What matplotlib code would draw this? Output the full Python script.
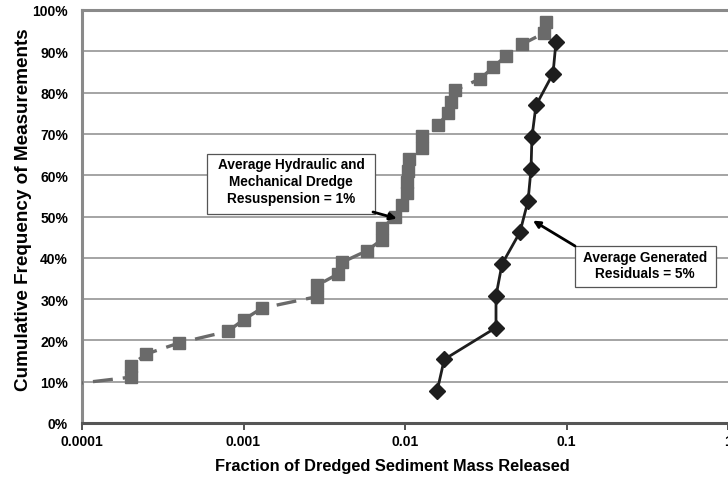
import numpy as np
import matplotlib
matplotlib.use('Agg')
import matplotlib.pyplot as plt
from matplotlib.patches import Rectangle
from matplotlib.ticker import FixedLocator, NullLocator

plt.rcParams['font.family'] = ['Liberation Sans', 'DejaVu Sans']
plt.rcParams['font.weight'] = 'bold'

# Resuspension (hydraulic + mechanical dredges), gray squares
resusp_x = [0.00005, 0.0002, 0.0002, 0.00025, 0.0004, 0.0008, 0.001, 0.0013,
            0.00285, 0.00285, 0.00385, 0.00407, 0.0058, 0.0072, 0.0072,
            0.0087, 0.0096, 0.0103, 0.0103, 0.0105, 0.0106, 0.0127, 0.0127,
            0.016, 0.0185, 0.0193, 0.0204, 0.0291, 0.0351, 0.0422, 0.053,
            0.0726, 0.0746]
resusp_y = [8.3, 11.1, 13.9, 16.7, 19.4, 22.2, 25.0, 27.8, 30.6, 33.3, 36.1,
            38.9, 41.7, 44.4, 47.2, 50.0, 52.8, 55.6, 58.3, 61.1, 63.9, 66.7,
            69.4, 72.2, 75.0, 77.8, 80.6, 83.3, 86.1, 88.9, 91.7, 94.4, 97.2]

# Generated residuals, black diamonds
resid_x = [0.0158, 0.0175, 0.0366, 0.0366, 0.0399, 0.0515, 0.0578, 0.0603,
           0.0611, 0.0647, 0.0825, 0.0861]
resid_y = [7.7, 15.4, 23.1, 30.8, 38.5, 46.2, 53.8, 61.5, 69.2, 76.9, 84.6, 92.3]

x_ticks = [0.0001, 0.001, 0.01, 0.1, 1]
x_ticklabels = ['0.0001', '0.001', '0.01', '0.1', '1']
y_ticks = list(range(0, 101, 10))
y_ticklabels = [f'{v}%' for v in y_ticks]

fig = plt.figure(figsize=(7.28, 4.81), dpi=100)
ax = fig.add_axes([82 / 728, 57 / 481, 646 / 728, 413 / 481])


def px(x, y):
    # pixel position in the picture -> axes fraction
    return (x - 82) / 646, (424 - y) / 413


# lines
ax.plot(resusp_x, resusp_y, color='#6a6a6a', lw=2.4, ls=(0, (6, 3)),
        marker='s', ms=8, mfc='#6a6a6a', mec='#6a6a6a', zorder=3)
ax.plot(resid_x, resid_y, color='#1e1e1e', lw=2.0, marker='D', ms=8.5,
        mfc='#1e1e1e', mec='#1e1e1e', zorder=4)

ax.set_xscale('log')
ax.set_xlim(0.0001, 1)
ax.set_ylim(0, 100)
ax.xaxis.set_major_locator(FixedLocator(x_ticks))
ax.xaxis.set_minor_locator(NullLocator())
ax.set_xticklabels(x_ticklabels)
ax.set_yticks(y_ticks)
ax.set_yticklabels(y_ticklabels)
ax.tick_params(axis='x', length=5, width=1.2, color='#333333', labelsize=10, pad=3)
ax.tick_params(axis='y', length=0, labelsize=10, pad=10)

ax.yaxis.grid(True, color='#8c8c8c', lw=1.1)
ax.set_axisbelow(True)

for s in ['left', 'top']:
    ax.spines[s].set_color('#8a8a8a')
    ax.spines[s].set_linewidth(2.2)
ax.spines['bottom'].set_color('#555555')
ax.spines['bottom'].set_linewidth(2.2)
ax.spines['right'].set_visible(False)

ax.set_xlabel('Fraction of Dredged Sediment Mass Released', fontsize=11.8,
              fontweight='bold')
ax.xaxis.set_label_coords(*px(392, 459))
ax.set_ylabel('Cumulative Frequency of Measurements', fontsize=13.6,
              fontweight='bold')
ax.yaxis.set_label_coords(*px(32, 210))

# annotation boxes
x0, y0 = px(207, 215)
x1, y1 = px(375, 155)
ax.add_patch(Rectangle((x0, y0), x1 - x0, y1 - y0, transform=ax.transAxes,
                       fc='white', ec='#555555', lw=0.9, zorder=5))
ax.text(*px(291, 182), 'Average Hydraulic and\nMechanical Dredge\nResuspension = 1%',
        transform=ax.transAxes, ha='center', va='center', fontsize=9.8,
        fontweight='bold', linespacing=1.25, zorder=6)
ax.annotate('', xy=(0.0089, 49.5), xycoords='data',
            xytext=px(373, 213), textcoords='axes fraction',
            arrowprops=dict(arrowstyle='-|>', color='black', lw=2,
                            mutation_scale=10, shrinkA=0, shrinkB=0), zorder=6)

x0, y0 = px(575, 288)
x1, y1 = px(716, 247)
ax.add_patch(Rectangle((x0, y0), x1 - x0, y1 - y0, transform=ax.transAxes,
                       fc='white', ec='#555555', lw=0.9, zorder=5))
ax.text(*px(645, 266), 'Average Generated\nResiduals = 5%',
        transform=ax.transAxes, ha='center', va='center', fontsize=9.8,
        fontweight='bold', linespacing=1.25, zorder=6)
ax.annotate('', xy=(0.062, 49), xycoords='data',
            xytext=px(575, 247), textcoords='axes fraction',
            arrowprops=dict(arrowstyle='-|>', color='black', lw=2,
                            mutation_scale=10, shrinkA=0, shrinkB=0), zorder=6)

fig.savefig('out.png', dpi=100)
